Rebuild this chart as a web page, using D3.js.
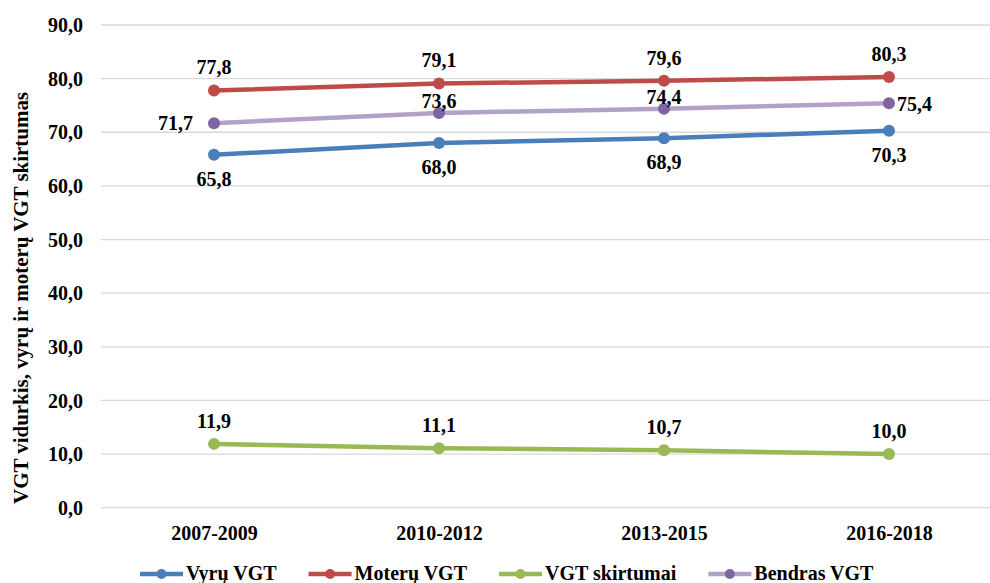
<!DOCTYPE html>
<html><head><meta charset="utf-8">
<script src="https://cdn.jsdelivr.net/npm/d3@7"></script>
<style>
html,body{margin:0;padding:0;background:#fff;}
svg{display:block;font-family:"Liberation Serif","Times New Roman",serif;font-weight:bold;}
</style></head>
<body>
<svg id="chart" width="990" height="583"></svg>
<script>
const categories = ["2007-2009", "2010-2012", "2013-2015", "2016-2018"];
const vyruValues = [65.8, 68.0, 68.9, 70.3];
const moteruValues = [77.8, 79.1, 79.6, 80.3];
const skirtumaiValues = [11.9, 11.1, 10.7, 10.0];
const bendrasValues = [71.7, 73.6, 74.4, 75.4];
const yTicks = [0, 10, 20, 30, 40, 50, 60, 70, 80, 90];
const seriesNames = ["Vyrų VGT", "Moterų VGT", "VGT skirtumai", "Bendras VGT"];
const yTitle = "VGT vidurkis, vyrų ir moterų VGT skirtumas";

const series = [
  {name: seriesNames[0], values: vyruValues, line: "#4a7ebb", marker: "#4a7ebb", place: ["below","below","below","below"]},
  {name: seriesNames[1], values: moteruValues, line: "#be4b48", marker: "#be4b48", place: ["above","above","above","above"]},
  {name: seriesNames[2], values: skirtumaiValues, line: "#98b954", marker: "#98b954", place: ["above","above","above","above"]},
  {name: seriesNames[3], values: bendrasValues, line: "#b3a2c7", marker: "#8064a2", place: ["left","near","near","right"]}
];

const FS = 20;
const fmt = v => d3.format(".1f")(v).replace(".", ",");
const svg = d3.select("#chart");
const x = d3.scalePoint().domain(categories).range([214, 889]);
const y = d3.scaleLinear().domain([0, 90]).range([507.7, 25]);

// gridlines
svg.append("g").selectAll("line").data(yTicks).join("line")
  .attr("x1", 101).attr("x2", 990)
  .attr("y1", d => y(d)).attr("y2", d => y(d))
  .attr("stroke", "#d9d9d9").attr("stroke-width", 1.3);

// y axis
const yAxis = d3.axisLeft(y).tickValues(yTicks).tickFormat(fmt).tickSize(0).tickPadding(0);
const gy = svg.append("g").attr("transform", "translate(83,0)").call(yAxis);
gy.select(".domain").remove();
gy.selectAll("text").attr("font-size", FS).attr("font-family", "Liberation Serif").attr("font-weight", "bold").attr("fill", "#000").attr("dy", "0.33em");

// x axis
const xAxis = d3.axisBottom(x).tickSize(0).tickPadding(0);
const gx = svg.append("g").attr("transform", "translate(0,540)").call(xAxis);
gx.select(".domain").remove();
gx.selectAll("text").attr("font-size", FS).attr("font-family", "Liberation Serif").attr("font-weight", "bold").attr("fill", "#000").attr("dy", 0);

// y title
svg.append("text").attr("transform", "translate(28,298) rotate(-90)")
  .attr("text-anchor", "middle").attr("font-size", FS).attr("fill", "#000")
  .attr("textLength", 412).attr("lengthAdjust", "spacingAndGlyphs")
  .text(yTitle);

// lines
const lineGen = d3.line().x((d, i) => x(categories[i])).y(d => y(d));
series.forEach(s => {
  svg.append("path").attr("d", lineGen(s.values)).attr("fill", "none")
    .attr("stroke", s.line).attr("stroke-width", 4.5).attr("stroke-linecap", "round");
  svg.append("g").selectAll("circle").data(s.values).join("circle")
    .attr("cx", (d, i) => x(categories[i])).attr("cy", d => y(d)).attr("r", 6)
    .attr("fill", s.marker);
});

// labels
series.forEach(s => {
  svg.append("g").selectAll("text").data(s.values).join("text")
    .attr("font-size", FS).attr("fill", "#000")
    .each(function(d, i) {
      const px = x(categories[i]), py = y(d), p = s.place[i];
      const t = d3.select(this).text(fmt(d));
      if (p === "above") t.attr("x", px).attr("y", py - 16).attr("text-anchor", "middle");
      else if (p === "below") t.attr("x", px).attr("y", py + 31).attr("text-anchor", "middle");
      else if (p === "left") t.attr("x", px - 21).attr("y", py + 7).attr("text-anchor", "end");
      else if (p === "right") t.attr("x", px + 8).attr("y", py + 8).attr("text-anchor", "start");
      else t.attr("x", px).attr("y", py - 5).attr("text-anchor", "middle");
    });
});

// legend
const lg = svg.append("g").attr("transform", "translate(0,574)");
let cx = 140;
series.forEach(s => {
  const g = lg.append("g").attr("transform", `translate(${cx},0)`);
  g.append("line").attr("x1", 0).attr("x2", 43).attr("y1", 0).attr("y2", 0)
    .attr("stroke", s.line).attr("stroke-width", 4.5);
  g.append("circle").attr("cx", 21.5).attr("cy", 0).attr("r", 5).attr("fill", s.marker);
  const t = g.append("text").attr("x", 46).attr("y", 6).attr("font-size", FS).attr("fill", "#000").text(s.name);
  cx += 46 + t.node().getComputedTextLength() + 32;
});
</script>
</body></html>
